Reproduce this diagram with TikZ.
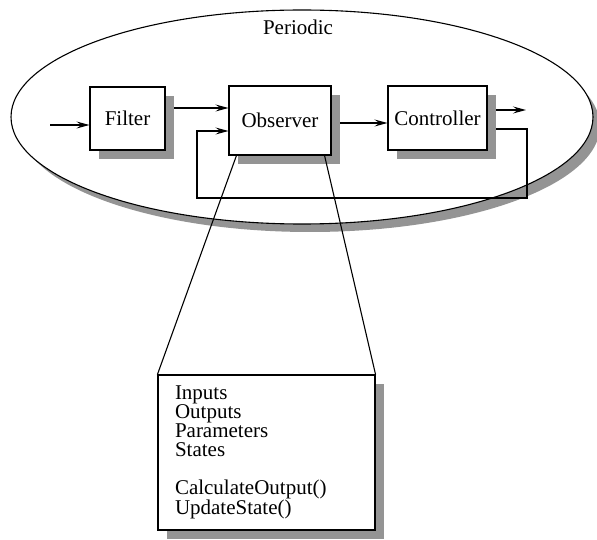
\documentclass[tikz,border=0pt]{standalone}
\usepackage{fontspec}
\setmainfont{Liberation Serif}
\usetikzlibrary{arrows.meta,shapes.geometric}
\begin{document}
\begin{tikzpicture}[x=1pt,y=-1pt,
  every node/.style={font=\fontsize{21}{19}\selectfont},
  shadowfill/.style={fill=black!42,draw=none},
  blk/.style={draw,line width=1.1pt,fill=white,inner sep=0pt},
  arr/.style={line width=1.1pt,-{Stealth[length=13pt,width=7pt,inset=5pt]}},
  ln/.style={line width=1.1pt}]
\useasboundingbox (0,0) rectangle (597,540);
% ellipse shadow and ellipse
\fill[shadowfill] (310,126) ellipse [x radius=290pt, y radius=106pt];
\node[ellipse,draw,line width=1.1pt,fill=white,minimum width=582pt,minimum height=214pt,inner sep=0pt] (per) at (302,117) {};
\node (ptitle) at (298,27) {Periodic};
% box shadows
\fill[shadowfill] (99,96) rectangle (174,159);
\fill[shadowfill] (238,95) rectangle (340,164);
\fill[shadowfill] (397,95) rectangle (496,159);
\fill[shadowfill] (167,384) rectangle (384,539);
% boxes
\node[blk,minimum width=75pt,minimum height=63pt] (filter) at (127.5,118.5) {Filter};
\node[blk,minimum width=102pt,minimum height=69pt] (obs) at (280,120.5) {Observer};
\node[blk,minimum width=99pt,minimum height=64pt] (ctrl) at (437.5,118) {Controller};
\node[blk,minimum width=217pt,minimum height=155pt,align=left,text width=183pt] (box) at (266.5,452.5)
 {Inputs\\Outputs\\Parameters\\States\\[19pt]CalculateOutput()\\UpdateState()};
% connectors
\coordinate (in) at (50,125);
\draw[arr] (in) -- (filter.west |- in);
\coordinate (fo) at (174,108);
\draw[arr] (fo) -- (obs.west |- fo);
\coordinate (oc) at (340,123);
\draw[arr] (oc) -- (ctrl.west |- oc);
\coordinate (co) at (496,110);
\coordinate (cout) at (526,110);
\draw[arr] (co) -- (cout);
\coordinate (fb0) at (496,129);
\coordinate (fb1) at (527,198);
\coordinate (fb2) at (197,131);
\draw[arr] (fb0) -| (fb1) -| (fb2) -- (obs.west |- fb2);
\draw[ln] ([xshift=8pt]obs.south west) -- (box.north west);
\draw[ln] ([xshift=-7pt]obs.south east) -- (box.north east);
\end{tikzpicture}
\end{document}
